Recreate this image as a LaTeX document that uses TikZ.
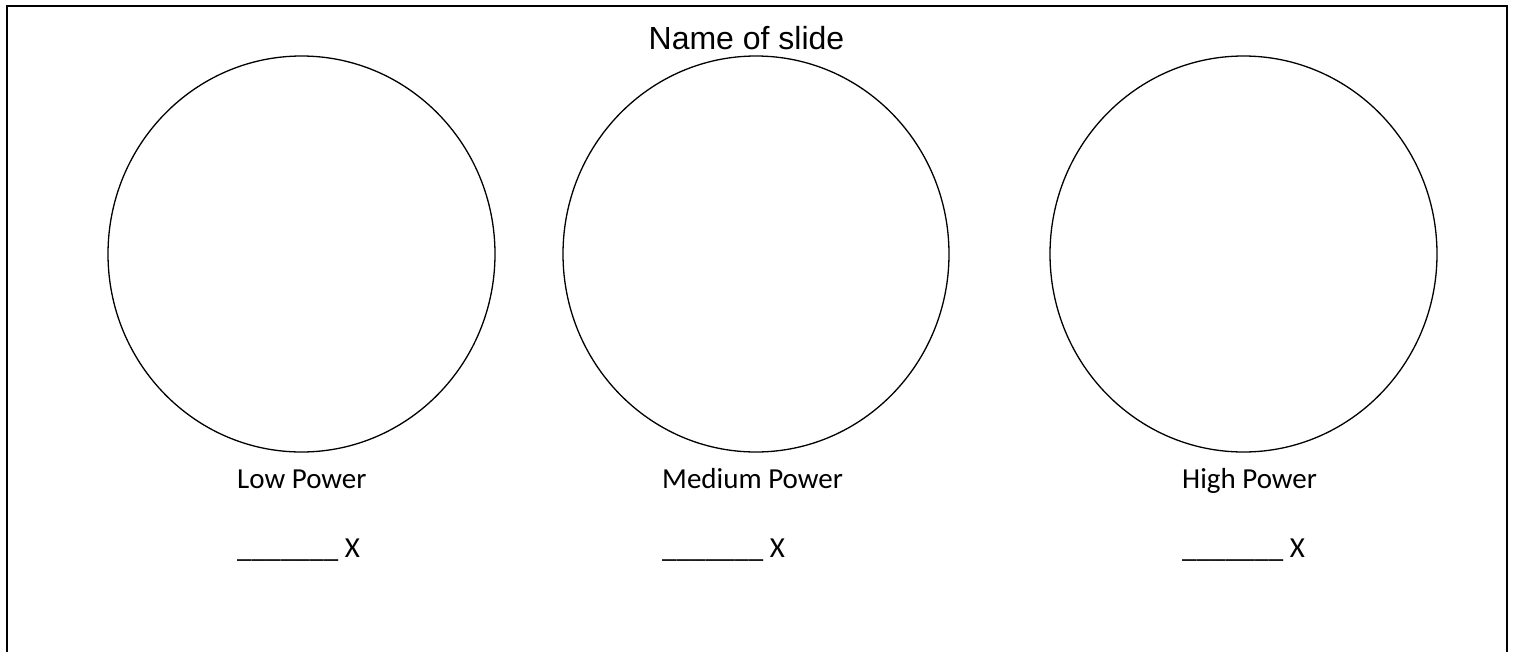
\documentclass[tikz,border=0pt]{standalone}
\usepackage{fontspec}
\setmainfont{Carlito}
\newfontfamily\titlefont{Liberation Sans}
\begin{document}
\begin{tikzpicture}[x=1pt,y=-1pt,
  ring/.style={line width=1.3pt},
  lbl/.style={font=\fontsize{29}{34}\selectfont,anchor=base west,inner sep=0pt},
  ttl/.style={font=\titlefont\fontsize{32}{38}\selectfont,anchor=base,inner sep=0pt}]
\useasboundingbox (0,0) rectangle (1514,651);
\draw[line width=2.2pt] (7,660) -- (7,6) -- (1507,6) -- (1507,660);
\node[ttl] (title) at (746.5,49) {Name of slide};
\draw[ring] (301.5,254) ellipse [x radius=193.5, y radius=198];
\draw[ring] (756,254) ellipse [x radius=193, y radius=198];
\draw[ring] (1243.5,254) ellipse [x radius=193.5, y radius=198];
\node[lbl] (low) at (237,488) {Low Power};
\node[lbl] (med) at (662,488) {Medium Power};
\node[lbl] (high) at (1182,488) {High Power};
\node[lbl] (lowx) at (237,557) {\_\_\_\_\_\_\_ X};
\node[lbl] (medx) at (662,557) {\_\_\_\_\_\_\_ X};
\node[lbl] (highx) at (1182,557) {\_\_\_\_\_\_\_ X};
\end{tikzpicture}
\end{document}
